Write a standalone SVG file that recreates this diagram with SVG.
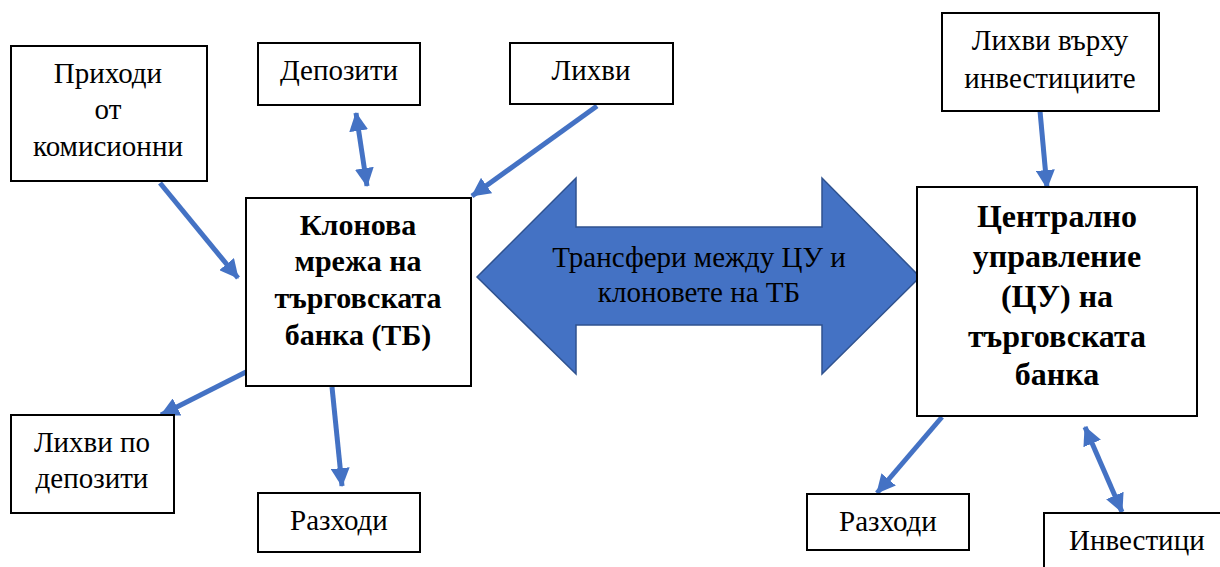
<svg xmlns="http://www.w3.org/2000/svg" width="1220" height="567" viewBox="0 0 1220 567">
<defs>
<style>
.box{fill:#fff;stroke:#000;stroke-width:2}
.c{stroke:#4472C4;stroke-width:5;fill:none}
</style>
<marker id="ah" markerUnits="userSpaceOnUse" viewBox="0 0 18 18" markerWidth="19" markerHeight="19" refX="17" refY="9" orient="auto-start-reverse">
<path d="M0,0 L18,9 L0,18 Z" fill="#4472C4"/>
</marker>
</defs>
<rect width="1220" height="567" fill="#fff"/>
<g id="connectors">
<line class="c" x1="160" y1="183" x2="238" y2="278" marker-end="url(#ah)"/>
<line class="c" x1="356" y1="113" x2="367" y2="186" marker-start="url(#ah)" marker-end="url(#ah)"/>
<line class="c" x1="597" y1="106" x2="472" y2="196" marker-end="url(#ah)"/>
<line class="c" x1="246" y1="372" x2="161" y2="415" marker-end="url(#ah)"/>
<line class="c" x1="332" y1="387" x2="342" y2="486" marker-end="url(#ah)"/>
<line class="c" x1="1040" y1="111" x2="1047" y2="188" marker-end="url(#ah)"/>
<line class="c" x1="942" y1="417" x2="877" y2="493" marker-end="url(#ah)"/>
<line class="c" x1="1085" y1="427" x2="1122" y2="512" marker-start="url(#ah)" marker-end="url(#ah)"/>
</g>
<g id="transfer">
<path d="M477,277 L576,178 L576,227 L822,227 L822,178 L920,277 L822,374 L822,325 L576,325 L576,374 Z" fill="#4472C4" stroke="#2F528F" stroke-width="1.5"/>
<text font-family="Liberation Serif" font-size="29" text-anchor="middle" x="699" y="267">Трансфери между ЦУ и</text>
<text font-family="Liberation Serif" font-size="29" text-anchor="middle" x="699" y="302">клоновете на ТБ</text>
</g>
<g id="prihodi">
<rect class="box" x="11" y="46" width="196" height="135"/>
<text font-family="Liberation Serif" font-size="29" text-anchor="middle" x="108" y="83">Приходи</text>
<text font-family="Liberation Serif" font-size="29" text-anchor="middle" x="108" y="119">от</text>
<text font-family="Liberation Serif" font-size="29" text-anchor="middle" x="108" y="156">комисионни</text>
</g>
<g id="depoziti">
<rect class="box" x="258" y="43" width="162" height="62"/>
<text font-family="Liberation Serif" font-size="29" text-anchor="middle" x="339" y="80">Депозити</text>
</g>
<g id="lihvi">
<rect class="box" x="510" y="43" width="163" height="61"/>
<text font-family="Liberation Serif" font-size="29" text-anchor="middle" x="591" y="80">Лихви</text>
</g>
<g id="klonova">
<rect class="box" x="246" y="198" width="225" height="188"/>
<text font-family="Liberation Serif" font-weight="bold" font-size="30" text-anchor="middle" x="358" y="235">Клонова</text>
<text font-family="Liberation Serif" font-weight="bold" font-size="30" text-anchor="middle" x="358" y="271">мрежа на</text>
<text font-family="Liberation Serif" font-weight="bold" font-size="30" text-anchor="middle" x="358" y="308">търговската</text>
<text font-family="Liberation Serif" font-weight="bold" font-size="30" text-anchor="middle" x="358" y="345">банка (ТБ)</text>
</g>
<g id="lihvi-depoziti">
<rect class="box" x="11" y="415" width="163" height="98"/>
<text font-family="Liberation Serif" font-size="29" text-anchor="middle" x="92" y="452">Лихви по</text>
<text font-family="Liberation Serif" font-size="29" text-anchor="middle" x="92" y="488">депозити</text>
</g>
<g id="razhodi-left">
<rect class="box" x="258" y="493" width="162" height="59"/>
<text font-family="Liberation Serif" font-size="29" text-anchor="middle" x="339" y="530">Разходи</text>
</g>
<g id="lihvi-investicii">
<rect class="box" x="942" y="13" width="217" height="98"/>
<text font-family="Liberation Serif" font-size="29" text-anchor="middle" x="1050" y="50">Лихви върху</text>
<text font-family="Liberation Serif" font-size="29" text-anchor="middle" x="1050" y="88">инвестициите</text>
</g>
<g id="centralno">
<rect class="box" x="917" y="187" width="280" height="229"/>
<text font-family="Liberation Serif" font-weight="bold" font-size="32" text-anchor="middle" x="1057" y="227">Централно</text>
<text font-family="Liberation Serif" font-weight="bold" font-size="32" text-anchor="middle" x="1057" y="267">управление</text>
<text font-family="Liberation Serif" font-weight="bold" font-size="32" text-anchor="middle" x="1057" y="307">(ЦУ) на</text>
<text font-family="Liberation Serif" font-weight="bold" font-size="32" text-anchor="middle" x="1057" y="347">търговската</text>
<text font-family="Liberation Serif" font-weight="bold" font-size="32" text-anchor="middle" x="1057" y="385">банка</text>
</g>
<g id="razhodi-right">
<rect class="box" x="807" y="494" width="162" height="56"/>
<text font-family="Liberation Serif" font-size="29" text-anchor="middle" x="888" y="531">Разходи</text>
</g>
<g id="investicii">
<rect class="box" x="1044" y="513" width="200" height="70"/>
<text font-family="Liberation Serif" font-size="29" x="1069" y="550">Инвестици</text>
</g>
</svg>
